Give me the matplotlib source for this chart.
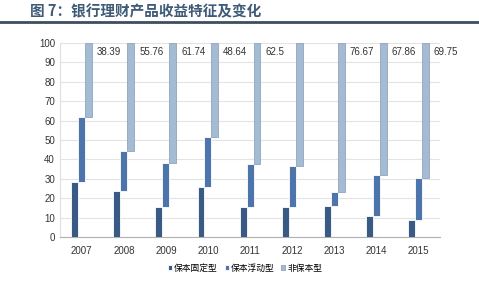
import matplotlib

matplotlib.use("Agg")
import matplotlib.pyplot as plt
import numpy as np

plt.rcParams["font.family"] = ["Liberation Sans", "Noto Sans CJK SC", "DejaVu Sans"]

years = ["2007", "2008", "2009", "2010", "2011", "2012", "2013", "2014", "2015"]
# 保本固定型 (lecture approximative sur l'image)
fixed = [28.6, 23.5, 15.5, 25.8, 15.4, 15.3, 16.2, 10.9, 8.9]
# 非保本型 (valeurs annotees, 2012 estimee)
nonprin = [38.39, 55.76, 61.74, 48.64, 62.5, 63.2, 76.67, 67.86, 69.75]
labels = ["38.39", "55.76", "61.74", "48.64", "62.5", "", "76.67", "67.86", "69.75"]
# 保本浮动型 = reste
floating = [100 - f - n for f, n in zip(fixed, nonprin)]

c_fixed = "#3a5a86"
c_float = "#4d74ab"
c_nonp = "#a5bbd2"

fig = plt.figure(figsize=(4.79, 2.95), dpi=100)
ax = fig.add_axes([0.125, 0.196, 0.794, 0.659])

x = np.arange(len(years))
w = 0.165
fixed = np.array(fixed)
floating = np.array(floating)
nonprin = np.array(nonprin)

ax.bar(x - w, fixed, w, color=c_fixed, edgecolor="white", linewidth=0.6, zorder=3,
       label="保本固定型")
ax.bar(x, floating, w, bottom=fixed, color=c_float, edgecolor="white", linewidth=0.6,
       zorder=3, label="保本浮动型")
ax.bar(x + w, nonprin, w, bottom=fixed + floating, color=c_nonp, edgecolor="#8ea6c0",
       linewidth=0.6, zorder=3, label="非保本型")

for xi, lab in zip(x, labels):
    if lab:
        ax.text(xi + w * 2.2, 95, lab, fontsize=7, color="#333333", ha="left", va="center")

ax.set_xlim(-0.52, 8.52)
ax.set_ylim(0, 100)
ax.set_yticks(np.arange(0, 101, 10))
ax.set_xticks(x)
ax.set_xticklabels(years)
ax.tick_params(axis="both", labelsize=7, colors="#333333", length=0)
ax.tick_params(axis="x", pad=6)
ax.grid(True, axis="y", color="#e3e3e3", linewidth=0.8, zorder=0)
for s in ["top", "right"]:
    ax.spines[s].set_visible(False)
ax.spines["left"].set_color("#e0e0e0")
ax.spines["bottom"].set_color("#b0b0b0")

fig.legend(loc="center", bbox_to_anchor=(0.512, 0.09), ncol=3, frameon=False,
           handlelength=0.45, handleheight=0.45, handletextpad=0.2,
           columnspacing=0.8, prop={"family": ["Noto Sans CJK SC"], "size": 6.3})

fig.text(0.063, 0.962, "图 7：银行理财产品收益特征及变化", fontsize=10.5, fontweight="bold",
         color="#3f5b78", family=["Noto Sans CJK SC"], va="center")
fig.add_artist(plt.Line2D([0, 1], [0.926, 0.926], color="#3d4e60", linewidth=2))

fig.savefig("out.png", dpi=100, facecolor="white")
